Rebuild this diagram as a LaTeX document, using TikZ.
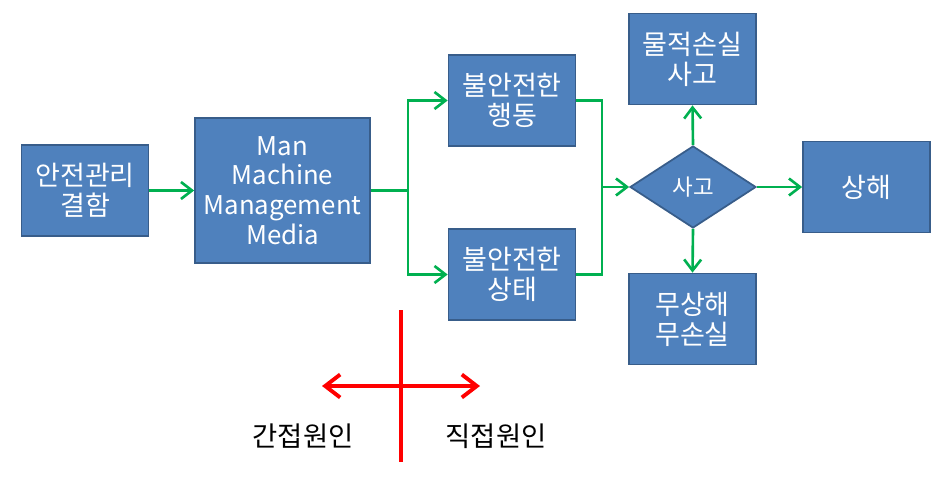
\documentclass[tikz,border=0pt]{standalone}
\usepackage{fontspec}
\setmainfont{Noto Sans CJK KR}
\usetikzlibrary{calc}
\usetikzlibrary{positioning}
\usetikzlibrary{shapes.geometric}
\usetikzlibrary{arrows.meta}
\definecolor{boxfill}{HTML}{4F81BD}
\definecolor{boxline}{HTML}{385D8A}
\definecolor{flowgreen}{HTML}{00B050}
\tikzstyle{stepbox} = [draw=boxline, fill=boxfill, line width=1pt, text=white, align=center, inner sep=0pt, minimum width=2.54cm, minimum height=1.82cm, font=\fontsize{15.4}{17}\selectfont]
\tikzstyle{decbox} = [stepbox, diamond, aspect=1.5, minimum width=2.52cm, minimum height=1.64cm, font=\fontsize{12.8}{14}\selectfont]
\tikzstyle{link} = [draw=flowgreen, line width=1.5pt]
\tikzstyle{flow} = [link, -{Straight Barb[length=2.2mm, width=3.4mm, line width=1.5pt]}]
\tikzstyle{cause} = [draw=red, line width=2.2pt]
\tikzstyle{plain} = [font=\fontsize{15.6}{17}\selectfont]

\begin{document}
\begin{tikzpicture}[x=0.02cm, y=-0.02cm]
    \useasboundingbox (0,0) rectangle (940,477);

    \node[stepbox] (lack) at (85,190.5) {안전관리\\결함};
    \node[stepbox, minimum width=3.5cm, minimum height=2.9cm, font=\fontsize{14.7}{17}\selectfont] (mmmm) at (282.5,190.5) {Man\\Machine\\Management\\Media};
    \node[stepbox] (unsafe_act) at (512,100.5) {불안전한\\행동};
    \node[stepbox] (unsafe_state) at (512,274.5) {불안전한\\상태};
    \node[stepbox] (property) at (692.5,59) {물적손실\\사고};
    \node[decbox] (accident) at (693,187) {사고};
    \node[stepbox] (injury) at (866.5,187) {상해};
    \node[stepbox] (none) at (692.5,319) {무상해\\무손실};

    \coordinate (split) at (408,190.5);
    \coordinate (merge) at (602,187);
    \draw[flow] (lack) -- (mmmm);
    \draw[flow] (mmmm.east) -- (split) |- (unsafe_act.west);
    \draw[flow] (mmmm.east) -- (split) |- (unsafe_state.west);
    \draw[link] (unsafe_act.east) -| (merge);
    \draw[link] (unsafe_state.east) -| (merge);
    \draw[flow] (merge) -- (accident.west);
    \draw[flow] (accident.north) -- (property.south);
    \draw[flow] (accident.south) -- (none.north);
    \draw[flow] (accident.east) -- (injury.west);

    % cause axis
    \coordinate (axis_top) at (401,310);
    \coordinate (axis_bot) at (401,462);
    \coordinate (axis_left) at (322,386);
    \coordinate (axis_right) at (480,386);
    \draw[cause] (axis_top) -- (axis_bot);
    \draw[cause, {Straight Barb[length=3mm, width=4.6mm, line width=2.2pt]}-{Straight Barb[length=3mm, width=4.6mm, line width=2.2pt]}] (axis_left) -- (axis_right);
    \node[plain] (indirect) at (303,436) {간접원인};
    \node[plain] (direct) at (496,436) {직접원인};
\end{tikzpicture}
\end{document}
